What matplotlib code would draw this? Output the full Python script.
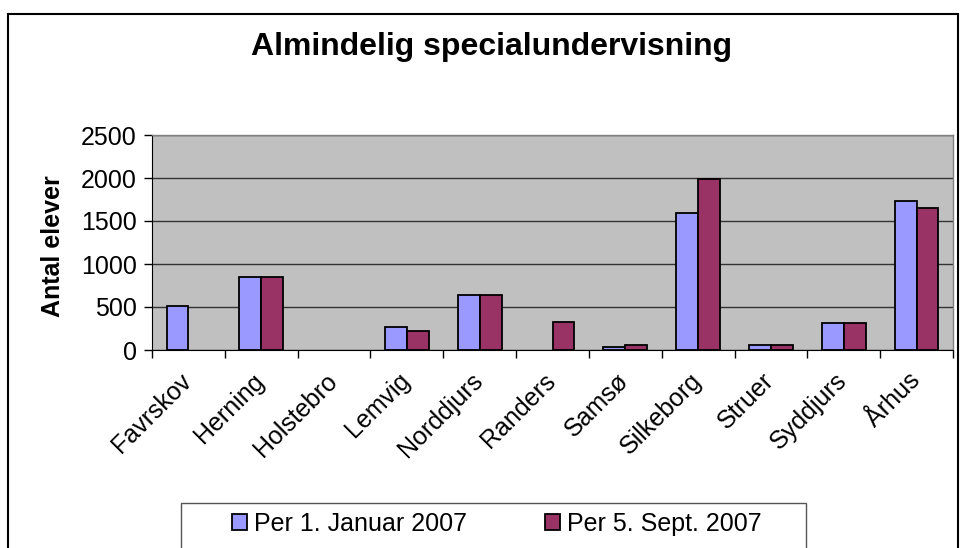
import matplotlib
matplotlib.use("Agg")
import matplotlib.pyplot as plt
import matplotlib.transforms as mtransforms
import numpy as np
from matplotlib.patches import Rectangle, Patch

categories = ["Favrskov", "Herning", "Holstebro", "Lemvig", "Norddjurs", "Randers",
              "Samsø", "Silkeborg", "Struer", "Syddjurs", "Århus"]
jan_2007 = [515, 845, 0, 264, 636, 0, 31, 1589, 55, 310, 1729]
sep_2007 = [0, 845, 0, 217, 636, 329, 58, 1985, 55, 310, 1655]
series_names = ["Per 1. Januar 2007", "Per 5. Sept. 2007"]
series_colors = ["#9999FF", "#993366"]
yticks = [0, 500, 1000, 1500, 2000, 2500]

plt.rcParams['font.family'] = ['Liberation Sans', 'DejaVu Sans']

W, H = 960, 548
fig = plt.figure(figsize=(W/100, H/100), dpi=100)
fig.patch.set_facecolor("white")

# outer chart frame
fig.patches.append(Rectangle((8/W, -0.05), (958-8)/W, 1.05 - 14/H, transform=fig.transFigure,
                             fill=False, edgecolor="black", linewidth=1.5, clip_on=False))

ax = fig.add_axes([152/W, 1-350/H, (953-152)/W, (350-135)/H])
ax.set_facecolor("#C0C0C0")

x = np.arange(len(categories))
bw = 0.3
for vals, off, col, name in [(jan_2007, -bw/2, series_colors[0], series_names[0]),
                             (sep_2007, bw/2, series_colors[1], series_names[1])]:
    bars = ax.bar(x + off, vals, width=bw, color=col, edgecolor="black", linewidth=1.3,
                  label=name, zorder=3)
    for b, v in zip(bars, vals):
        if v == 0:
            b.set_linewidth(0)
            b.set_edgecolor("none")

ax.set_xlim(-0.5, len(categories) - 0.5)
ax.set_ylim(0, 2500)
ax.set_yticks(yticks)
ax.set_yticklabels([str(v) for v in yticks], fontsize=18)
ax.yaxis.grid(True, color="#333333", linewidth=1.0, zorder=1)
ax.set_axisbelow(True)

ax.set_xticks(np.arange(len(categories) + 1) - 0.5, minor=False)
ax.set_xticklabels([])
ax.set_xticks(x, minor=True)
ax.set_xticklabels(categories, minor=True, rotation=45, ha="right", va="top", fontsize=18)
ax.tick_params(axis="x", which="minor", length=0, pad=12)
ax.tick_params(axis="x", which="major", length=6, width=1, direction="out", color="black")
ax.tick_params(axis="y", length=6, width=1, direction="out", color="black", pad=5)
offset = mtransforms.ScaledTranslation(8/100, -2/100, fig.dpi_scale_trans)
for lab in ax.get_xticklabels(minor=True):
    lab.set_transform(lab.get_transform() + offset)

for s in ["top", "right"]:
    ax.spines[s].set_color("#808080")
    ax.spines[s].set_linewidth(1.0)
ax.spines["left"].set_color("black")
ax.spines["bottom"].set_color("black")

fig.text(53/W, 1-246/H, "Antal elever", rotation=90, ha="center", va="center",
         fontsize=18, fontweight="bold")

fig.text(492/W, 1-55/H, "Almindelig specialundervisning", ha="center", va="baseline",
         fontsize=23, fontweight="bold")

# legend frame
fig.patches.append(Rectangle((181/W, -0.05), (806-181)/W, (1-503/H) + 0.05, transform=fig.transFigure,
                             fill=False, edgecolor="#555555", linewidth=1.0, clip_on=False))
handles = [Patch(facecolor=c, edgecolor="black", linewidth=1.3) for c in series_colors]
leg = fig.legend(handles, series_names, loc="center", bbox_to_anchor=(497/W, 1-524/H), ncol=2,
                 frameon=False, fontsize=18, handlelength=0.6, handleheight=0.6,
                 handletextpad=0.3, columnspacing=3.1, borderaxespad=0, borderpad=0)

fig.savefig("out.png", dpi=100)
